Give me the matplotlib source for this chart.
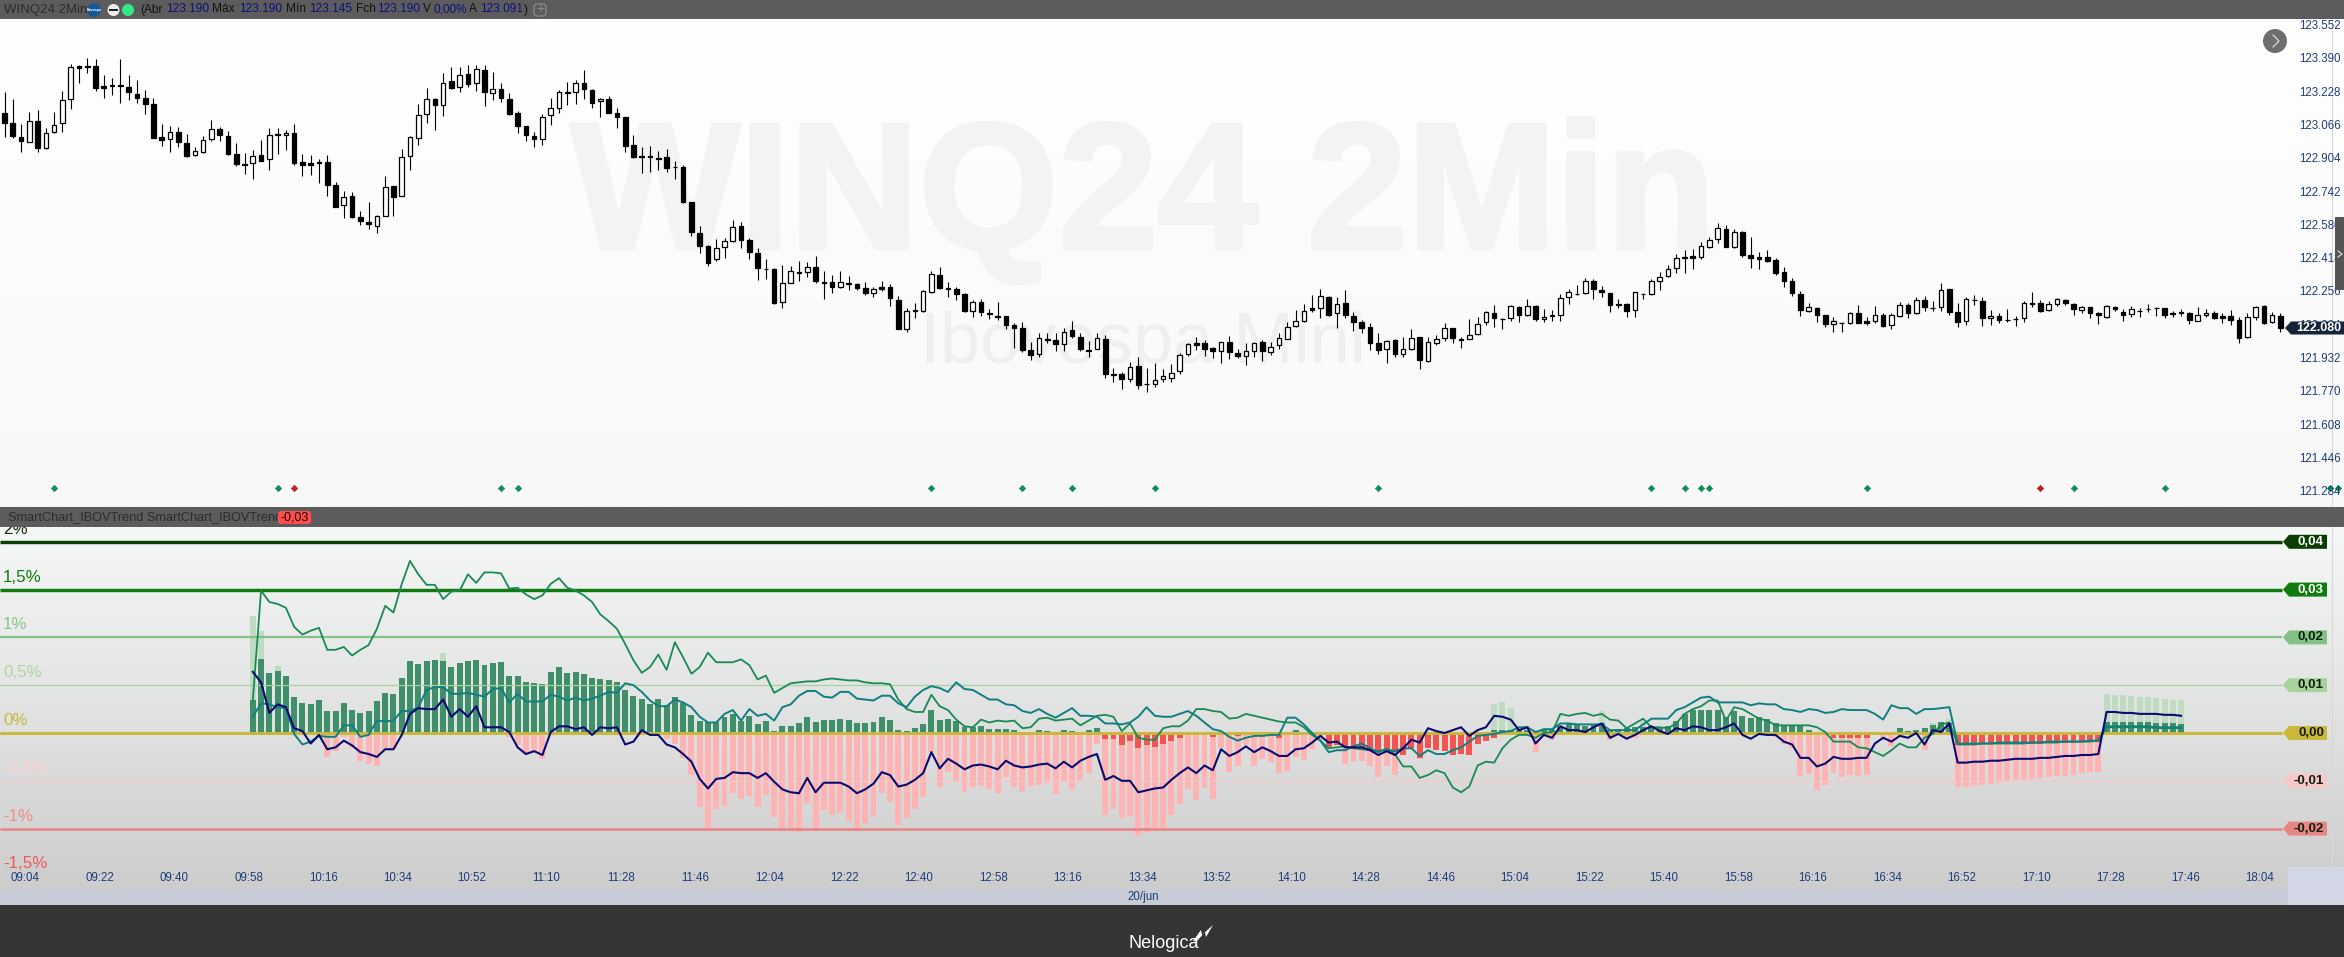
import numpy as np
import matplotlib
matplotlib.use('Agg')
import matplotlib.pyplot as plt
import matplotlib.patheffects as pe
from matplotlib.patches import Circle, Polygon, Rectangle, FancyBboxPatch

plt.rcParams['font.family'] = ['Liberation Sans', 'DejaVu Sans']

W, H = 2344, 957

# candles, 2 minute bars, prices in points
opens = [123120,123071,123003,122982,123081,122953,123031,123071,123187,123349,
123349,123349,123252,123255,123255,123245,123213,123194,123163,123005,
122994,123029,122974,122915,122934,122997,123042,123010,122923,122874,
122878,122916,122897,123018,123012,123023,122882,122878,122882,122882,
122771,122674,122718,122616,122592,122576,122624,122766,122721,122912,
123002,123115,123187,123161,123276,123245,123308,123265,123329,123215,
123237,123189,123121,123058,123010,122994,123110,123147,123221,123221,
123265,123232,123178,123189,123120,123102,122966,122913,122913,122903,
122907,122860,122860,122689,122539,122478,122416,122471,122503,122573,
122507,122444,122366,122366,122208,122300,122351,122353,122374,122303,
122301,122280,122296,122291,122274,122251,122277,122279,122216,122077,
122166,122164,122256,122335,122272,122269,122245,122164,122206,122151,
122137,122138,122095,122080,121974,121953,122027,122022,122001,122069,
122037,121974,121980,122027,121858,121858,121835,121896,121809,121811,
121835,121840,121870,121956,122008,122008,121982,121970,122011,121958,
121946,121970,122011,121966,122000,122029,122091,122116,122175,122179,
122230,122154,122200,122137,122108,122083,122006,121977,122022,121956,
121980,122035,121922,122009,122030,122080,122025,122029,122053,122108,
122151,122124,122127,122180,122141,122187,122125,122141,122143,122229,
122245,122251,122306,122264,122248,122195,122195,122166,122246,122246,
122309,122333,122369,122422,122427,122425,122474,122509,122558,122474,
122545,122432,122424,122424,122408,122351,122308,122245,122164,122178,
122141,122101,122104,122106,122153,122114,122116,122143,122096,122140,
122191,122154,122216,122178,122183,122269,122156,122112,122217,122209,
122127,122138,122119,122124,122127,122199,122199,122166,122196,122216,
122195,122169,122180,122151,122135,122180,122159,122146,122164,122174,
122177,122175,122151,122156,122154,122116,122145,122154,122137,122137,
122117,122035,122135,122187,122108,122137]
closes = [123074,123007,122987,123081,122950,123023,123061,123182,123342,123336,
123341,123244,123244,123249,123249,123220,123195,123166,123002,122992,
123028,122978,122913,122936,122989,123042,123012,122920,122876,122871,
122911,122889,123013,123013,123023,122881,122870,122871,122881,122770,
122668,122713,122615,122600,122581,122621,122762,122716,122907,123005,
123110,123187,123161,123265,123242,123303,123261,123332,123220,123236,
123195,123116,123058,123012,122997,123100,123144,123221,123215,123265,
123239,123171,123187,123123,123103,122963,122910,122907,122907,122900,
122852,122858,122691,122547,122479,122394,122466,122502,122571,122507,
122450,122371,122366,122203,122296,122354,122348,122374,122309,122300,
122280,122301,122295,122275,122251,122267,122271,122224,122075,122161,
122161,122258,122340,122275,122271,122246,122162,122204,122159,122150,
122135,122095,122082,121974,121951,122030,122024,122004,122062,122043,
121979,121970,122030,121859,121854,121835,121890,121806,121808,121827,
121846,121861,121948,122001,122000,121980,121970,122011,121966,121945,
121967,122008,121969,121987,122030,122087,122112,122161,122169,122233,
122143,122195,122145,122111,122082,122009,121974,122019,121956,121977,
122030,121925,122011,122025,122079,122033,122024,122045,122098,122156,
122130,122122,122185,122145,122185,122125,122135,122137,122224,122253,
122246,122306,122267,122256,122193,122191,122164,122253,122243,122306,
122329,122364,122417,122417,122420,122475,122504,122562,122474,122543,
122433,122417,122414,122404,122348,122308,122251,122169,122180,122145,
122101,122112,122103,122151,122106,122104,122141,122090,122141,122190,
122154,122216,122183,122175,122262,122159,122111,122219,122216,122127,
122137,122120,122117,122122,122199,122196,122164,122195,122219,122203,
122174,122180,122154,122141,122185,122170,122145,122170,122162,122170,
122175,122145,122150,122153,122119,122141,122154,122129,122129,122119,
122033,122132,122183,122104,122141,122080]
highs = [123221,123189,123066,123126,123136,123047,123126,123228,123357,123352,
123386,123381,123305,123289,123381,123305,123281,123232,123192,123068,
123058,123055,123018,122958,123010,123086,123052,123034,122974,122926,
122942,122991,123047,123050,123039,123068,122923,122918,122899,122918,
122789,122741,122737,122647,122689,122628,122818,122768,122945,123010,
123165,123241,123195,123313,123342,123345,123353,123353,123353,123318,
123265,123216,123128,123058,123031,123115,123192,123232,123273,123281,
123329,123236,123192,123205,123144,123103,123015,122958,122961,122937,
122947,122887,122870,122692,122574,122482,122511,122515,122603,122595,
122516,122468,122415,122371,122385,122380,122404,122401,122429,122358,
122337,122356,122332,122300,122304,122277,122308,122291,122235,122175,
122200,122264,122358,122375,122303,122280,122248,122216,122220,122170,
122204,122138,122103,122109,122014,122054,122054,122054,122080,122114,
122054,122017,122054,122046,121888,121869,121914,121938,121885,121909,
121880,121906,121958,122009,122038,122022,121990,122011,122041,121979,
122006,122014,122022,122014,122058,122111,122167,122196,122240,122267,
122235,122229,122264,122156,122119,122103,122054,122022,122025,122038,
122075,122035,122038,122046,122106,122082,122038,122124,122135,122162,
122191,122127,122191,122187,122219,122191,122170,122167,122243,122267,
122288,122320,122316,122283,122251,122222,122199,122256,122251,122316,
122353,122385,122437,122458,122462,122495,122519,122587,122579,122558,
122550,122519,122449,122458,122417,122377,122320,122259,122199,122180,
122143,122135,122108,122158,122191,122135,122187,122154,122151,122204,
122199,122232,122235,122212,122296,122270,122199,122229,122240,122232,
122167,122151,122172,122138,122212,122253,122216,122211,122224,122220,
122199,122187,122183,122159,122191,122187,122170,122188,122178,122196,
122180,122178,122164,122172,122159,122180,122170,122164,122154,122167,
122135,122151,122187,122190,122159,122151]
lows = [123003,123002,122934,122978,122934,122945,123026,123029,123142,123265,
123316,123229,123195,123208,123171,123184,123171,123116,123002,122963,
122932,122958,122910,122913,122929,122987,122987,122918,122862,122826,
122802,122886,122845,122923,122942,122870,122816,122820,122784,122720,
122668,122613,122611,122579,122561,122542,122620,122620,122721,122845,
122966,123071,123039,123107,123239,123223,123245,123226,123155,123184,
123174,123113,123026,122986,122958,122968,123063,123123,123160,123165,
123189,123147,123103,123120,123050,122934,122905,122832,122836,122845,
122837,122803,122687,122523,122442,122378,122405,122418,122494,122466,
122413,122310,122318,122197,122179,122296,122309,122329,122300,122222,
122248,122272,122264,122264,122240,122232,122261,122188,122075,122062,
122130,122159,122248,122270,122232,122216,122158,122135,122140,122122,
122119,122075,121983,121964,121925,121941,122006,121969,121970,122030,
121967,121941,121977,121840,121817,121785,121820,121785,121772,121793,
121820,121820,121858,121945,121974,121945,121937,121912,121930,121937,
121901,121941,121922,121949,121979,122029,122083,122111,122159,122127,
122140,122082,122130,122066,122058,121974,121954,121912,121941,121941,
121974,121882,121916,121998,122017,122009,121982,122027,122046,122096,
122087,122074,122116,122111,122138,122116,122111,122116,122116,122196,
122240,122245,122220,122232,122159,122175,122135,122135,122222,122240,
122264,122325,122348,122346,122366,122414,122469,122490,122474,122466,
122425,122369,122366,122401,122337,122280,122237,122138,122156,122111,
122087,122061,122061,122100,122103,122093,122103,122087,122077,122135,
122130,122146,122164,122164,122164,122143,122087,122096,122191,122091,
122095,122106,122111,122091,122111,122180,122159,122164,122187,122191,
122143,122154,122130,122100,122130,122162,122116,122135,122135,122159,
122138,122130,122135,122140,122101,122112,122135,122125,122103,122095,
122009,122030,122119,122101,122103,122062]

green_signals = [6,33,60,62,112,123,129,139,166,199,203,205,206,225,250,261,281,282]
red_signals = [35,246]
signal_price = 121305

price_ticks = [123552,123390,123228,123066,122904,122742,122580,122418,122256,122094,121932,121770,121608,121446,121284]
time_labels = ['09:04','09:22','09:40','09:58','10:16','10:34','10:52','11:10','11:28','11:46','12:04','12:22','12:40','12:58','13:16','13:34','13:52','14:10','14:28','14:46','15:04','15:22','15:40','15:58','16:16','16:34','16:52','17:10','17:28','17:46','18:04']

# indicator, starts at bar 30 (09:58), values in 0.01 %
first_bar = 30
green_line = [34,149,137,135,131,111,103,107,110,87,
87,90,81,87,92,109,133,126,156,180,
166,155,155,140,148,149,166,157,168,168,
167,151,152,145,140,144,156,162,152,149,
144,137,124,117,109,93,76,63,69,82,
66,95,79,62,69,84,74,74,74,77,
71,56,60,42,47,52,53,54,54,56,
57,56,55,55,53,52,52,51,35,25,
22,22,40,28,24,14,7,6,14,11,
13,12,13,5,6,15,16,13,14,15,
8,13,18,19,17,2,10,-5,-7,-7,
5,7,7,13,25,25,23,22,15,16,
20,18,16,14,12,11,11,6,-2,-8,
-16,-15,-14,-16,-17,-18,-19,-17,-22,-35,
-35,-47,-44,-39,-42,-57,-62,-56,-34,-30,
-31,-16,-7,-2,-2,-5,0,1,20,18,
20,21,18,20,14,13,5,10,15,6,
6,5,10,20,25,28,34,34,13,27,
25,20,15,13,8,8,8,8,8,6,
1,-9,-9,-9,-15,-16,-20,-24,-18,-11,
-15,-15,-5,-1,9,11,
-12,-12,-12,-11,-11,-11,-11,-11,-11,-10,-10,-10,-10,-9,-9,-9,-9,-8,
6,6,6,6,6,6,5,5,5,5]
teal_line = [17,31,30,27,26,-1,-12,-9,-3,-4,
-4,8,8,-4,-2,13,12,13,23,23,
27,45,48,48,41,41,42,40,38,46,
47,32,41,33,33,33,40,38,34,37,
34,36,39,43,42,52,50,43,34,28,
28,35,32,27,17,11,11,20,24,13,
25,18,20,13,27,30,39,44,44,38,
37,43,43,36,35,34,39,39,31,27,
38,45,49,47,43,53,46,45,40,35,
35,30,29,23,21,25,20,16,21,26,
18,18,17,10,10,9,11,17,27,18,
17,17,20,23,18,11,4,2,-4,-8,
-5,-3,-3,-2,-2,16,16,9,0,-8,
-20,-18,-18,-14,-11,-16,-20,-17,-19,-16,
-16,-24,-18,-22,-22,-18,-15,-9,-3,-2,
-1,1,2,6,6,1,4,4,10,10,
9,9,9,9,3,3,3,3,9,15,
15,15,24,27,32,37,38,32,32,32,
32,29,31,30,30,25,24,22,25,24,
21,22,25,24,24,24,20,14,29,26,
26,20,25,25,26,27,
-11,-11,-11,-11,-11,-10,-10,-10,-10,-10,-10,-9,-9,-9,-9,-9,-8,-8,
7,7,7,7,7,7,6,6,6,6]
navy_line = [64,53,21,30,27,5,2,-11,-2,-17,
-15,-8,-13,-20,-22,-25,-17,-17,-2,20,
26,25,25,35,17,25,17,28,6,6,
6,1,-15,-22,-19,-23,1,7,7,4,
6,-2,6,5,6,-12,-9,3,-2,-2,
-12,-15,-22,-30,-48,-58,-48,-47,-41,-42,
-42,-47,-42,-51,-59,-62,-63,-47,-62,-52,
-52,-52,-56,-63,-59,-53,-41,-44,-56,-54,
-49,-42,-20,-37,-27,-32,-38,-34,-33,-35,
-38,-29,-34,-36,-35,-33,-32,-37,-30,-36,
-29,-25,-22,-49,-45,-50,-50,-62,-60,-58,
-57,-49,-42,-36,-42,-34,-39,-17,-24,-20,
-14,-20,-15,-19,-24,-24,-17,-16,-10,-3,
-10,-9,-15,-15,-15,-18,-23,-19,-23,-16,
-7,-10,5,2,0,3,6,-3,3,6,
18,17,14,3,6,-11,-2,-5,7,3,
3,1,6,10,-5,-1,-6,-2,3,7,
2,-1,5,3,7,6,3,3,6,10,
-2,-6,-1,-2,-2,-9,-12,-26,-26,-35,
-32,-25,-27,-27,-26,-26,-11,-5,-9,-3,
-5,0,-12,3,1,10,
-31,-31,-30,-30,-29,-29,-28,-27,-27,-27,-26,-26,-25,-24,-24,-23,-23,-22,
22,22,21,21,20,20,20,19,19,18]

hist_green = [35,77,63,65,60,38,31,30,35,23,
23,31,24,21,23,33,42,41,58,75,
72,75,76,75,69,73,75,76,71,73,
74,60,60,53,52,51,64,69,63,64,
62,58,57,55,53,45,39,36,30,36,
29,38,31,19,13,11,11,17,20,13,
18,9,13,2,7,7,10,17,12,14,
14,15,14,10,10,11,17,14,3,2,
5,9,24,14,15,13,6,6,7,4,
4,4,3,0,0,3,2,0,3,2,
0,3,5,0,0,0,0,0,0,0,
0,0,0,0,0,0,0,0,0,0,
0,0,0,0,0,0,3,0,0,0,
0,0,0,0,0,0,0,0,0,0,
0,0,0,0,0,0,0,0,0,0,
3,3,3,3,3,0,3,3,7,9,
9,7,9,10,3,4,5,6,6,7,
6,7,13,20,24,24,24,24,17,23,
18,16,17,15,10,7,7,8,3,0,
0,0,0,0,0,0,0,0,0,5,
2,3,5,8,12,10,0,0,0,0,
0,0,0,0,0,0,0,0,0,0,
0,0,0,0,11,11,11,11,11,11,
10,10,10,9]
hist_pink = [0,0,0,0,0,0,0,0,0,-25,
-19,-4,-16,-29,-32,-34,-18,-16,0,0,
0,0,0,0,0,0,0,0,0,0,
0,-4,-13,-22,-20,-27,0,0,0,0,
0,0,0,0,0,0,0,-2,0,-2,
-6,-11,-26,-44,-77,-99,-79,-76,-63,-69,
-66,-77,-65,-88,-100,-103,-104,-73,-100,-81,
-86,-84,-92,-102,-95,-88,-63,-72,-96,-89,
-80,-67,-20,-57,-41,-50,-62,-56,-55,-59,
-63,-46,-56,-62,-55,-54,-52,-64,-50,-59,
-49,-42,-11,-86,-80,-89,-87,-108,-104,-103,
-100,-86,-74,-59,-70,-58,-69,-16,-41,-34,
-13,-34,-27,-30,-42,-40,-25,-28,-17,-7,
-16,-8,-32,-30,-29,-35,-46,-35,-44,-23,
-17,-27,-13,0,0,0,0,0,0,0,
0,0,0,0,0,-20,0,-7,0,0,
0,0,0,0,-7,0,-6,-5,0,0,
0,0,0,0,0,0,0,0,0,0,
0,0,0,0,-4,-11,-16,-45,-43,-60,
-54,-42,-46,-44,-45,-44,0,-4,-14,0,
0,0,-18,0,0,0,-56,-56,-55,-54,
-53,-52,-50,-49,-49,-48,-47,-46,-45,-45,
-44,-42,-41,-41,0,0,0,0,0,0,
0,0,0,0]
pale_bars = [30,31,33,53,180,181,182,184,193,198,203,233,235,254,255,256,257,258,259,260,261,262,263]
pale_vals = [122,107,70,84,30,32,26,8,23,13,13,10,15,41,40,40,39,38,38,37,36,35,34]
red_bars = [123,127,133,134,135,136,137,138,139,140,141,142,146,149,154,160,161,162,163,164,165,166,167,168,169,170,171,172,173,174,175,176,177,178,179,180,221,222,223,224,225,236,237,238,239,240,241,242,243,244,245,246,247,248,249,250,251,252,253]
red_vals = [-2,-2,-6,-6,-13,-8,-16,-13,-15,-11,-8,-5,-4,-3,-5,-15,-13,-14,-16,-15,-18,-20,-18,-20,-23,-16,-26,-16,-18,-19,-23,-22,-23,-11,-8,-5,-5,-5,-5,-5,-5,-13,-13,-13,-12,-12,-12,-12,-11,-11,-11,-11,-10,-10,-10,-10,-9,-9,-9]

level_vals = [200,150,100,50,0,-50,-100]
level_colors = ['#0a3d00','#0f7b0f','#84c184','#a9d39d','#c9b83a','#f8c8c8','#e88585']
level_widths = [3.4,3.4,2.2,1.2,2.6,1.2,2.6]
level_tags = ['0,04','0,03','0,02','0,01','0,00','-0,01','-0,02']
tag_text_colors = ['white','white','#102010','#102010','#102010','#102010','#102010']
left_vals = [200,150,100,50,0,-50,-100,-150]
left_labels = ['2%','1,5%','1%','0,5%','0%','-0,5%','-1%','-1,5%']
left_colors = ['#103010','#0f7b0f','#8cc48c','#b0d6a4','#c9b83a','#fbd0d0','#f08c8c','#f05a5a']

bar_step = 8.276
bar_x0 = 4.5


def px_to_bar(x):
    return (x - bar_x0) / bar_step


def make_panel(top, bottom, zorder=1):
    ax = fig.add_axes([0, 1 - bottom / H, 1, (bottom - top) / H])
    ax.set_xlim(px_to_bar(0), px_to_bar(W))
    ax.patch.set_alpha(0)
    ax.axis('off')
    ax.set_zorder(zorder)
    return ax


def y_px(ax, value):
    return H - ax.transData.transform((0, value))[1]


def tag(x0, x1, y, half, face, label, color, size=9.6):
    chrome.add_patch(Polygon([(x0, y), (x0 + 6, y - half), (x1, y - half), (x1, y + half), (x0 + 6, y + half)],
                             closed=True, fc=face, ec='none', zorder=6))
    chrome.text(x1 - 3, y, label, ha='right', va='center', color=color, fontsize=size, fontweight='bold', zorder=7)


fig = plt.figure(figsize=(W / 100, H / 100), dpi=100)

# backgrounds and watermarks
base = fig.add_axes([0, 0, 1, 1])
base.set_xlim(0, W)
base.set_ylim(H, 0)
base.axis('off')
base.set_zorder(0)
grad = np.linspace(0, 1, 256).reshape(-1, 1)
base.imshow(grad, extent=[0, W, 507, 19], aspect='auto', zorder=0,
            cmap=matplotlib.colors.LinearSegmentedColormap.from_list('p', ['#ffffff', '#f8f8f8']))
base.imshow(grad, extent=[0, W, 889, 527], aspect='auto', zorder=0,
            cmap=matplotlib.colors.LinearSegmentedColormap.from_list('s', ['#f6f8f7', '#cdcdcd']))
base.set_xlim(0, W)
base.set_ylim(H, 0)
base.text(1143, 248, 'WINQ24 2Min', ha='center', va='baseline', fontsize=129, fontweight='bold', color='#f3f3f3', zorder=1,
          path_effects=[pe.withStroke(linewidth=3, foreground='#f3f3f3')])
base.text(1143, 363, 'Ibovespa Mini', ha='center', va='baseline', fontsize=52, color='#efefef', zorder=1)
base.plot([2332, 2332], [19, 867], color='#d8d8d8', lw=0.8, zorder=1)

# price panel
top = make_panel(19, 507)
top.set_ylim(122080 - (507 - 328) * 4.84, 122080 + (328 - 19) * 4.84)
bars = np.arange(len(opens))
top.vlines(bars, lows, highs, color='black', lw=0.8, zorder=2)
opens_a = np.array(opens)
closes_a = np.array(closes)
body_low = np.minimum(opens_a, closes_a)
body_h = np.abs(closes_a - opens_a)
faces = ['white' if c > o else 'black' for o, c in zip(opens, closes)]
top.bar(bars, body_h, bottom=body_low, width=0.56, color=faces, edgecolor='black', linewidth=0.9, zorder=3)
top.scatter(green_signals, [signal_price] * len(green_signals), marker='D', s=14, color='#0f8f5a', lw=0, zorder=4, clip_on=False)
top.scatter(red_signals, [signal_price] * len(red_signals), marker='D', s=14, color='#c81e1e', lw=0, zorder=4)

# indicator panel
low = make_panel(527, 889, zorder=2)
low.set_ylim(-(889 - 733) / 0.956, (733 - 527) / 0.956)
ind_x = np.arange(first_bar, first_bar + len(green_line))
low.bar(pale_bars, pale_vals, width=0.72, color='#bfdcc3', lw=0, zorder=1)
low.bar(ind_x, hist_pink, width=0.72, color='#ffb3b3', lw=0, zorder=1)
low.bar(ind_x, hist_green, width=0.72, color='#3f8f6b', lw=0, zorder=2)
low.bar(red_bars, red_vals, width=0.72, color='#f25550', lw=0, zorder=2)
for val, col, lw_ in zip(level_vals, level_colors, level_widths):
    low.plot([px_to_bar(0), px_to_bar(2282)], [val, val], color=col, lw=lw_ * 0.72, solid_capstyle='butt', zorder=3)
low.plot(ind_x, green_line, color='#1a8a55', lw=1.3, zorder=4)
low.plot(ind_x, teal_line, color='#0f7f80', lw=1.4, zorder=5)
low.plot(ind_x, navy_line, color='#0a0a70', lw=1.5, zorder=6)
low.plot([px_to_bar(0), px_to_bar(2282)], [0, 0], color=level_colors[4], lw=level_widths[4] * 0.72, solid_capstyle='butt', zorder=3.5)

for val, text, col in zip(left_vals, left_labels, left_colors):
    low.text(3, y_px(low, val) - 12.5, text, transform=base.transData, ha='left', va='center',
             fontsize=12.2, color=col, zorder=3, clip_on=True)

# window chrome on top of both panels
chrome = fig.add_axes([0, 0, 1, 1])
chrome.set_xlim(0, W)
chrome.set_ylim(H, 0)
chrome.axis('off')
chrome.set_zorder(5)
chrome.patch.set_alpha(0)
for x0, y0, x1, y1, c in [(0, 0, W, 19, '#5c5c5c'), (0, 507, W, 527, '#5c5c5c'), (0, 889, W, 905, '#c8ccd6'),
                          (2288, 867, W, 905, '#d3d7e5'), (0, 905, W, H, '#353535')]:
    chrome.add_patch(Rectangle((x0, y0), x1 - x0, y1 - y0, fc=c, ec='none', zorder=1))

chrome.text(4, 9.5, 'WINQ24 2Min', va='center', fontsize=9.5, color='#2c2c2c', zorder=3)
chrome.add_patch(Circle((94, 10), 7, fc='#15589a', ec='none', zorder=3))
chrome.text(94, 10, 'Bovespa', ha='center', va='center', fontsize=2.6, color='white', fontweight='bold', zorder=4)
chrome.add_patch(Circle((113.5, 10), 6, fc='#eeeeee', ec='none', zorder=3))
chrome.plot([110, 117], [10, 10], color='#202020', lw=1.4, zorder=4)
chrome.add_patch(Circle((128, 10), 6, fc='#34e884', ec='none', zorder=3))
header = [(140, '(Abr', '#111111'), (166, '123.190', '#10107a'), (212, 'Máx', '#111111'), (239, '123.190', '#10107a'),
          (286, 'Mín', '#111111'), (309, '123.145', '#10107a'), (356, 'Fch', '#111111'), (377, '123.190', '#10107a'),
          (423, 'V', '#111111'), (433, '0,00%', '#10107a'), (469, 'A', '#111111'), (480, '123.091', '#10107a'), (524, ')', '#111111')]
for x, s, c in header:
    chrome.text(x, 9.5, s, va='center', fontsize=8.6, color=c, zorder=3)
chrome.add_patch(FancyBboxPatch((534, 4), 12, 12, boxstyle='round,pad=0,rounding_size=3', fc='none', ec='#8a8a8a', lw=0.9, zorder=3))
chrome.text(540, 9.5, '+', ha='center', va='center', fontsize=10, color='#8a8a8a', zorder=4)

chrome.text(8, 517.5, 'SmartChart_IBOVTrend SmartChart_IBOVTrend', va='center', fontsize=9.2, color='#2c2c2c', zorder=3)
chrome.add_patch(FancyBboxPatch((278, 511), 33, 13, boxstyle='round,pad=0,rounding_size=3', fc='#ff4d4d', ec='none', zorder=3))
chrome.text(294.5, 517.5, '-0,03', ha='center', va='center', fontsize=9, color='#200000', zorder=4)

# price scale
for value in price_ticks:
    s = f'{value / 1000:.3f}'
    chrome.text(2341, y_px(top, value) + 2 * (value - 121284) / 2268, s, ha='right', va='center', fontsize=8.3, color='#1d3d7a', zorder=3)
tag(2285, W, y_px(top, closes[-1]), 6.5, '#14233c', '122.080', 'white', 9)
chrome.add_patch(Rectangle((2335, 217), 9, 73, fc='#555555', ec='none', zorder=8))
chrome.plot([2338, 2342, 2338], [251, 254, 257], color='#e8e8e8', lw=0.8, zorder=9)
chrome.add_patch(Circle((2275, 41), 12, fc='#6e6e6e', ec='none', zorder=3))
chrome.plot([2273, 2279, 2273], [35, 41, 47], color='#e8e8e8', lw=0.8, zorder=4)

# indicator tags
for val, text, col, tc in zip(level_vals, level_tags, level_colors, tag_text_colors):
    tag(2283, 2327, y_px(low, val), 7, col, text, tc)

# time axis
for i, text in enumerate(time_labels):
    x = bar_x0 + bar_step * (2.5 + 9 * i)
    chrome.text(x, 878, text, ha='center', va='center', fontsize=8.3, color='#1d3d7a', zorder=3)
chrome.text(1143, 897, '20/jun', ha='center', va='center', fontsize=8.3, color='#1d3d7a', zorder=3)

# footer logo
chrome.text(1164, 943, 'Nelogica', ha='center', va='center', fontsize=13, color='white', zorder=3)
chrome.add_patch(Polygon([(1193, 941), (1201, 930), (1202, 935), (1213, 925), (1206, 937), (1205, 932), (1197, 941)],
                         closed=True, fc='white', ec='none', zorder=3))

fig.savefig('out.png', dpi=100)
